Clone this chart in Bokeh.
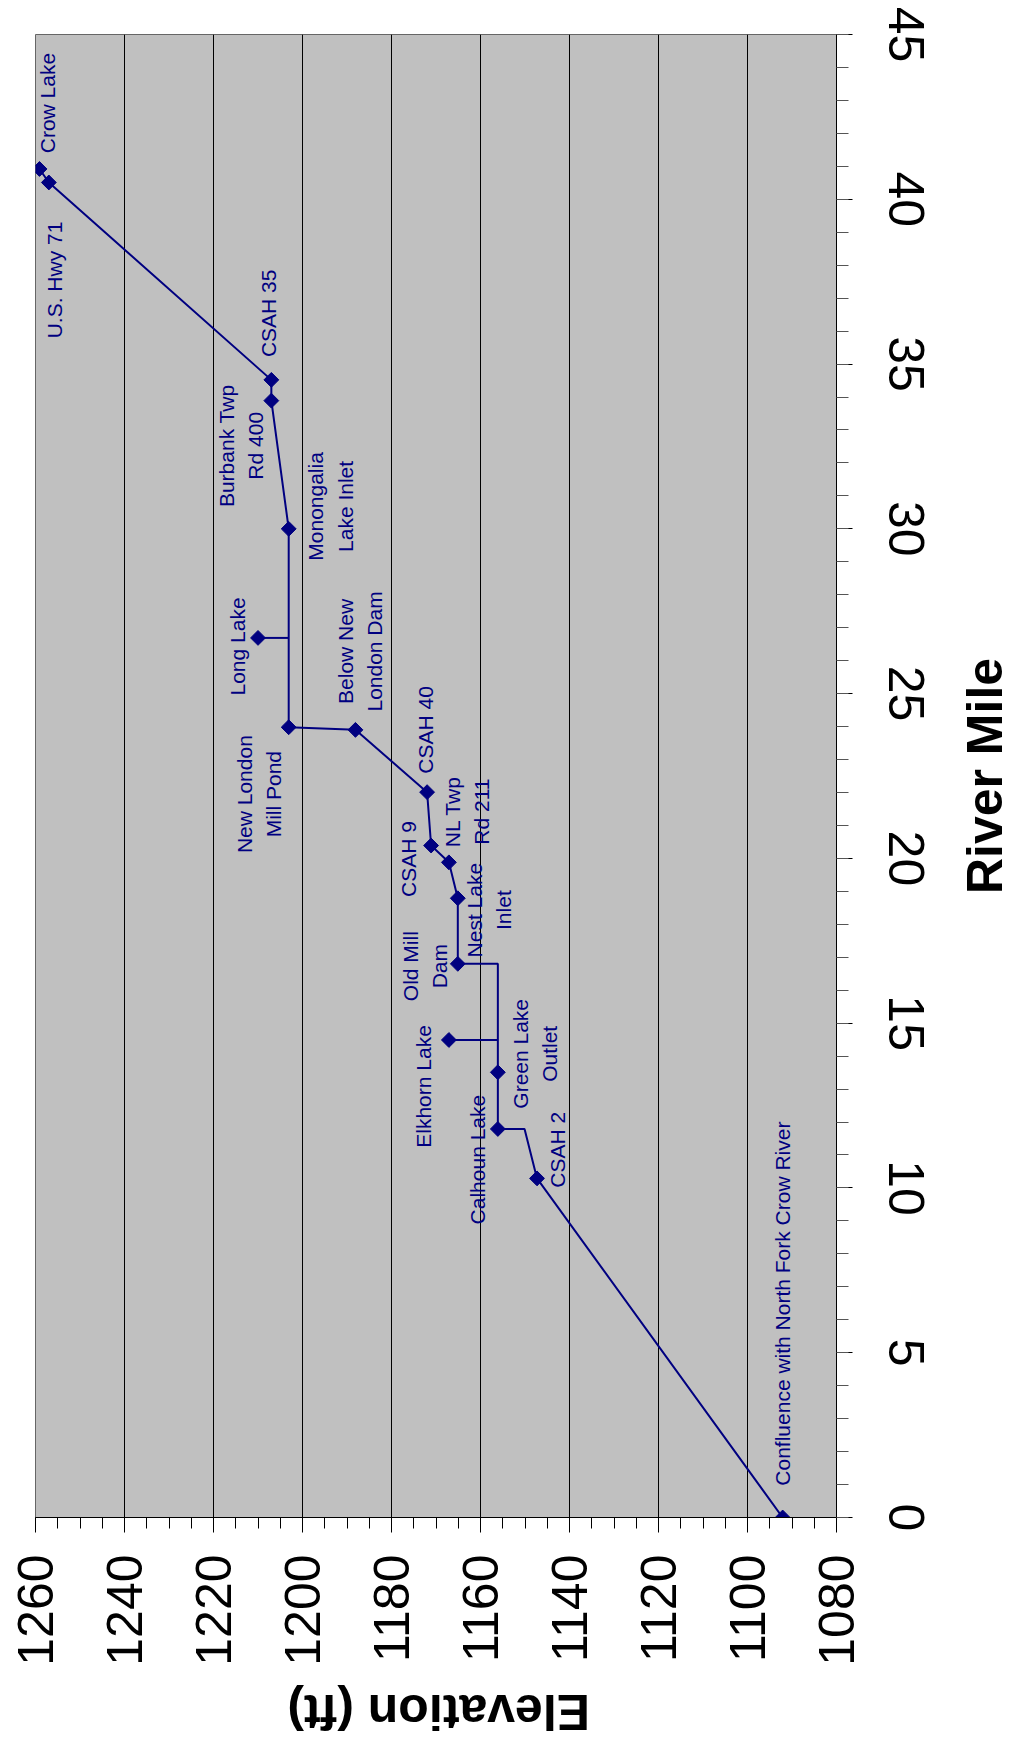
import math
from bokeh.plotting import figure
from bokeh.models import Range1d, SingleIntervalTicker, ColumnDataSource, Label
from bokeh.core.properties import value
from bokeh.embed import file_html
from bokeh.resources import INLINE

# ---- data -------------------------------------------------------------
site_names = ["Crow Lake", "U.S. Hwy 71", "CSAH 35", "Burbank Twp\nRd 400",
              "Monongalia\nLake Inlet", "Long Lake", "New London\nMill Pond",
              "Below New\nLondon Dam", "CSAH 40", "CSAH 9", "NL Twp\nRd 211",
              "Nest Lake\nInlet", "Old Mill\nDam", "Elkhorn Lake", "Green Lake\nOutlet",
              "Calhoun Lake", "CSAH 2", "Confluence with North Fork Crow River"]
site_mile = [40.92, 40.51, 34.52, 33.89, 30.0, 26.69, 23.98, 23.90, 22.01, 20.39,
             19.88, 18.79, 16.80, 14.49, 13.51, 11.79, 10.29, 0.0]
site_elev = [1259.1, 1257.0, 1207.0, 1207.0, 1203.1, 1210.0, 1203.1, 1188.1, 1172.0,
             1171.1, 1167.1, 1165.1, 1165.1, 1167.1, 1156.1, 1156.1, 1147.3, 1092.1]

# main river profile (including unmarked bends)
path_mile = [40.92, 40.51, 34.52, 33.89, 30.0, 23.98, 23.90, 22.01, 20.39, 19.88,
             18.79, 16.80, 16.80, 13.51, 11.79, 11.79, 10.29, 0.0]
path_elev = [1259.1, 1257.0, 1207.0, 1207.0, 1203.1, 1203.1, 1188.1, 1172.0, 1171.1,
             1167.1, 1165.1, 1165.1, 1156.1, 1156.1, 1156.1, 1150.1, 1147.3, 1092.1]

# tributary lake connectors
branch_mile = [[26.69, 26.69], [14.49, 14.49]]
branch_elev = [[1210.0, 1203.1], [1167.1, 1156.1]]

# label anchor positions (elevation, river mile)
label_elev = [1257.4, 1255.7, 1207.6, 1213.9, 1193.7, 1214.7, 1209.8, 1187.0, 1172.4,
              1176.1, 1163.0, 1158.1, 1172.5, 1172.9, 1147.75, 1160.7, 1142.6, 1092.2]
label_mile = [42.92, 37.55, 36.54, 32.52, 30.68, 26.43, 21.95, 26.28, 23.90, 19.98,
              21.42, 18.43, 16.73, 13.08, 14.07, 10.86, 11.16, 6.49]

x_title = "Elevation (ft)"
y_title = "River Mile"

FONT = "Liberation Sans"
NAVY = "#000080"

p = figure(width=1012, height=1747,
           x_range=Range1d(1260, 1080), y_range=Range1d(0, 45),
           output_backend="svg", toolbar_location=None,
           x_axis_location="below", y_axis_location="right",
           min_border_left=35, min_border_top=34, min_border_right=176, min_border_bottom=230,
           background_fill_color="#C0C0C0", border_fill_color="white",
           outline_line_color="#666666", outline_line_width=1)

# axes
xa = p.xaxis[0]
xa.ticker = SingleIntervalTicker(interval=20, num_minor_ticks=4)
xa.major_label_orientation = math.pi / 2
xa.major_label_text_font = FONT
xa.major_label_text_font_size = "50px"
xa.major_label_text_color = "black"
xa.major_label_standoff = 22
xa.major_tick_out = 15
xa.major_tick_in = 0
xa.minor_tick_out = 11
xa.minor_tick_in = 0
xa.axis_line_color = "black"
xa.major_tick_line_color = "black"
xa.minor_tick_line_color = "black"

ya = p.yaxis[0]
ya.ticker = SingleIntervalTicker(interval=5, num_minor_ticks=5)
ya.major_label_orientation = "vertical"
ya.major_label_text_font = FONT
ya.major_label_text_font_size = "50px"
ya.major_label_text_color = "black"
ya.major_label_standoff = 36
ya.major_tick_out = 16
ya.major_tick_in = 0
ya.minor_tick_out = 12
ya.minor_tick_in = 0
ya.axis_line_color = "black"
ya.major_tick_line_color = "black"
ya.minor_tick_line_color = "#555555"

p.xgrid.grid_line_color = "black"
p.xgrid.grid_line_width = 1
p.ygrid.visible = False

# river profile
p.line(path_elev, path_mile, line_color=NAVY, line_width=2)
p.multi_line(branch_elev, branch_mile, line_color=NAVY, line_width=2)
p.scatter(site_elev, site_mile, marker="square", size=10.5, angle=math.pi / 4,
          fill_color=NAVY, line_color=NAVY)

src = ColumnDataSource(dict(x=label_elev, y=label_mile, t=site_names))
p.text(x="x", y="y", text="t", source=src, angle=math.pi / 2,
       text_align="center", text_baseline="middle",
       text_font=value(FONT), text_font_size="21px", text_color=NAVY,
       text_line_height=1.27)

# axis titles, rotated with the chart, placed in the side panels
p.add_layout(Label(x=1046.7, y=22.5, text=y_title, angle=math.pi / 2,
                   text_align="center", text_baseline="middle",
                   text_font=FONT, text_font_size="50px", text_font_style="bold",
                   text_color="black"), "right")
p.add_layout(Label(x=1169.4, y=-5.89, text=x_title, angle=math.pi,
                   text_align="center", text_baseline="middle",
                   text_font=FONT, text_font_size="50px", text_font_style="bold",
                   text_color="black"), "below")

open("out.html", "w").write(file_html(p, INLINE))
